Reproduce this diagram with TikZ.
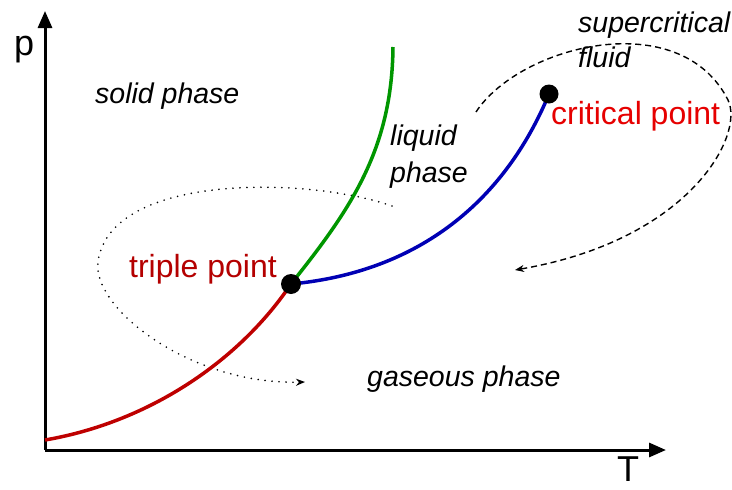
\documentclass[tikz,border=0pt]{standalone}
\usepackage{fontspec}
\setmainfont{Liberation Sans}
\usetikzlibrary{arrows.meta}
\definecolor{sublred}{RGB}{190,0,0}
\definecolor{liqgreen}{RGB}{0,150,0}
\definecolor{vapblue}{RGB}{0,0,180}
\definecolor{critred}{RGB}{230,0,0}
\definecolor{tripred}{RGB}{180,0,0}
\begin{document}
\begin{tikzpicture}[x=1pt,y=-1pt,
  axis/.style={line width=3pt,-{Triangle[length=17pt,width=14pt]}},
  curve/.style={line width=3.5pt},
  phase/.style={font=\fontsize{28.5}{34}\selectfont\itshape,inner sep=0pt,anchor=base west},
  ptlabel/.style={font=\fontsize{32}{38}\selectfont,inner sep=0pt},
  axlabel/.style={font=\fontsize{36}{42}\selectfont,inner sep=0pt,anchor=base west},
  dot/.style={circle,fill=black,inner sep=0pt,minimum size=20pt},
  loopdot/.style={line width=1.8pt,line cap=round,dash pattern=on 0pt off 7pt,-{Stealth[length=9pt,width=7pt]}},
  loopdash/.style={line width=1.4pt,dash pattern=on 6pt off 4pt,-{Stealth[length=9pt,width=7pt]}}]
\useasboundingbox (0,0) rectangle (732,490);
% coordinates
\coordinate (org) at (45,450);
\coordinate (yend) at (45,11);
\coordinate (xend) at (666,450);
\coordinate (low) at (45,440);
\coordinate (tp) at (291,284);
\coordinate (cp) at (549,94);
\coordinate (gtop) at (393,47);
\coordinate (ds) at (392,206);
\coordinate (dm) at (98,262);
\coordinate (de) at (305,382);
\coordinate (ss) at (476,112);
\coordinate (sm) at (728,100);
\coordinate (se) at (515,270);
% loops
\draw[loopdot] (ds) .. controls (310,177) and (110,172) .. (dm)
  .. controls (92,308) and (190,385) .. (de);
\draw[loopdash] (ss) .. controls (520,45) and (680,5) .. (sm)
  .. controls (745,135) and (690,240) .. (se);
% axes
\draw[axis] (org) -- (yend);
\draw[axis] (org) -- (xend);
% curves
\draw[curve,sublred] (low) .. controls (150,422) and (240,360) .. (tp);
\draw[curve,liqgreen] (tp) .. controls (350,210) and (392,150) .. (gtop);
\draw[curve,vapblue] (tp) .. controls (420,272) and (505,200) .. (cp);
% points
\node[dot] (tpd) at (tp) {};
\node[dot,minimum size=19pt] (cpd) at (cp) {};
% labels
\node[axlabel] (plab) at (14,55) {p};
\node[axlabel] (tlab) at (617,481) {T};
\node[phase] (solid) at (95,103) {solid phase};
\node[phase] (liq1) at (390,145) {liquid};
\node[phase] (liq2) at (390,182) {phase};
\node[phase] (gas) at (367,386) {gaseous phase};
\node[phase] (sc1) at (578,32) {supercritical};
\node[phase] (sc2) at (578,67) {fluid};
\node[ptlabel,anchor=base east,text=tripred] (tplab) at (277,277) {triple point};
\node[ptlabel,anchor=base west,text=critred] (cplab) at (551,124) {critical point};
\end{tikzpicture}
\end{document}
